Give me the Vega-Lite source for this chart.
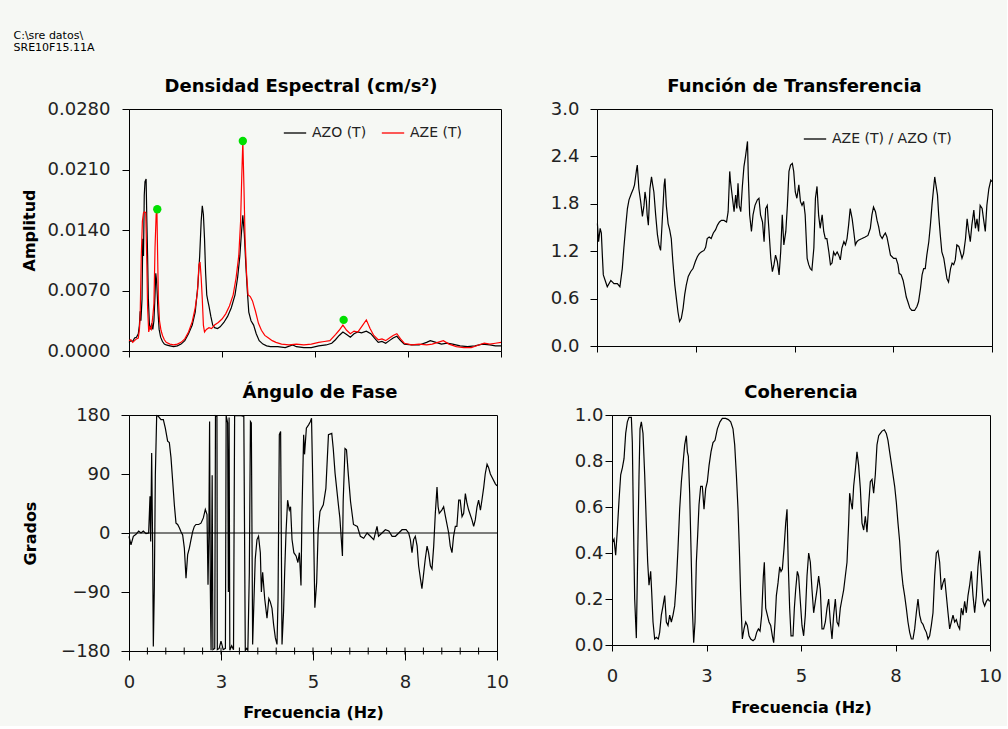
{
"$schema": "https://vega.github.io/schema/vega-lite/v6.json",
"background": "#f6f8f4",
"padding": {"left": 13, "top": 29, "right": 5, "bottom": 5},
"title": {"text": ["C:\\sre datos\\", "SRE10F15.11A"], "anchor": "start", "dx": -7, "fontSize": 11, "fontWeight": "normal", "font": "DejaVu Sans", "lineHeight": 12, "offset": 25, "color": "#000000"},
"datasets": {
"azo": [{"f":0,"v":0.001},{"f":0.05,"v":0.0012},{"f":0.1,"v":0.0011},{"f":0.15,"v":0.0015},{"f":0.2,"v":0.0016},{"f":0.25,"v":0.002},{"f":0.28,"v":0.003},{"f":0.3,"v":0.0046},{"f":0.32,"v":0.0035},{"f":0.35,"v":0.006},{"f":0.37,"v":0.013},{"f":0.39,"v":0.011},{"f":0.41,"v":0.018},{"f":0.43,"v":0.0196},{"f":0.46,"v":0.0199},{"f":0.48,"v":0.015},{"f":0.5,"v":0.011},{"f":0.52,"v":0.006},{"f":0.55,"v":0.003},{"f":0.58,"v":0.0025},{"f":0.61,"v":0.0032},{"f":0.64,"v":0.0025},{"f":0.67,"v":0.0035},{"f":0.7,"v":0.0065},{"f":0.72,"v":0.009},{"f":0.74,"v":0.0082},{"f":0.76,"v":0.0065},{"f":0.78,"v":0.0045},{"f":0.81,"v":0.0025},{"f":0.85,"v":0.0016},{"f":0.9,"v":0.0011},{"f":0.95,"v":0.0008},{"f":1.0,"v":0.0007},{"f":1.1,"v":0.0006},{"f":1.2,"v":0.0005},{"f":1.3,"v":0.0006},{"f":1.4,"v":0.0008},{"f":1.5,"v":0.0012},{"f":1.6,"v":0.002},{"f":1.7,"v":0.003},{"f":1.78,"v":0.0045},{"f":1.85,"v":0.0075},{"f":1.9,"v":0.011},{"f":1.94,"v":0.015},{"f":1.97,"v":0.0168},{"f":2.0,"v":0.0158},{"f":2.03,"v":0.013},{"f":2.06,"v":0.009},{"f":2.09,"v":0.0065},{"f":2.12,"v":0.0058},{"f":2.15,"v":0.0052},{"f":2.2,"v":0.004},{"f":2.25,"v":0.003},{"f":2.3,"v":0.0027},{"f":2.38,"v":0.0026},{"f":2.45,"v":0.0028},{"f":2.55,"v":0.0033},{"f":2.65,"v":0.004},{"f":2.75,"v":0.005},{"f":2.85,"v":0.0065},{"f":2.92,"v":0.0085},{"f":2.98,"v":0.011},{"f":3.02,"v":0.0135},{"f":3.06,"v":0.0157},{"f":3.1,"v":0.0135},{"f":3.14,"v":0.01},{"f":3.18,"v":0.007},{"f":3.22,"v":0.0045},{"f":3.28,"v":0.0035},{"f":3.35,"v":0.003},{"f":3.42,"v":0.002},{"f":3.5,"v":0.0012},{"f":3.6,"v":0.0008},{"f":3.7,"v":0.0006},{"f":3.8,"v":0.0005},{"f":4.0,"v":0.0005},{"f":4.2,"v":0.0004},{"f":4.4,"v":0.0007},{"f":4.5,"v":0.0005},{"f":4.7,"v":0.0004},{"f":4.9,"v":0.0004},{"f":5.1,"v":0.0006},{"f":5.3,"v":0.0007},{"f":5.45,"v":0.0009},{"f":5.55,"v":0.0013},{"f":5.65,"v":0.0018},{"f":5.75,"v":0.0022},{"f":5.85,"v":0.0019},{"f":5.95,"v":0.0016},{"f":6.05,"v":0.002},{"f":6.15,"v":0.0022},{"f":6.25,"v":0.0021},{"f":6.38,"v":0.0023},{"f":6.5,"v":0.002},{"f":6.6,"v":0.0015},{"f":6.7,"v":0.001},{"f":6.8,"v":0.0011},{"f":6.9,"v":0.0009},{"f":7.0,"v":0.0012},{"f":7.1,"v":0.0015},{"f":7.2,"v":0.0017},{"f":7.3,"v":0.0012},{"f":7.4,"v":0.0008},{"f":7.6,"v":0.0007},{"f":7.8,"v":0.0007},{"f":8.0,"v":0.001},{"f":8.1,"v":0.0012},{"f":8.25,"v":0.001},{"f":8.4,"v":0.0008},{"f":8.55,"v":0.0009},{"f":8.7,"v":0.0008},{"f":8.9,"v":0.0006},{"f":9.1,"v":0.0005},{"f":9.3,"v":0.0006},{"f":9.5,"v":0.0008},{"f":9.7,"v":0.0007},{"f":9.85,"v":0.0006},{"f":10,"v":0.0006}],
"aze": [{"f":0,"v":0.0012},{"f":0.05,"v":0.0013},{"f":0.1,"v":0.001},{"f":0.15,"v":0.0012},{"f":0.2,"v":0.0014},{"f":0.25,"v":0.0015},{"f":0.28,"v":0.0025},{"f":0.3,"v":0.004},{"f":0.33,"v":0.011},{"f":0.36,"v":0.015},{"f":0.39,"v":0.016},{"f":0.42,"v":0.0161},{"f":0.45,"v":0.016},{"f":0.48,"v":0.01},{"f":0.5,"v":0.005},{"f":0.53,"v":0.0022},{"f":0.56,"v":0.0028},{"f":0.6,"v":0.0025},{"f":0.64,"v":0.004},{"f":0.67,"v":0.0055},{"f":0.7,"v":0.012},{"f":0.73,"v":0.0158},{"f":0.75,"v":0.0164},{"f":0.77,"v":0.011},{"f":0.79,"v":0.006},{"f":0.82,"v":0.0035},{"f":0.86,"v":0.0024},{"f":0.9,"v":0.0018},{"f":0.95,"v":0.0013},{"f":1.0,"v":0.001},{"f":1.1,"v":0.0008},{"f":1.2,"v":0.0007},{"f":1.3,"v":0.0008},{"f":1.4,"v":0.001},{"f":1.5,"v":0.0014},{"f":1.6,"v":0.0022},{"f":1.7,"v":0.0034},{"f":1.78,"v":0.005},{"f":1.84,"v":0.0068},{"f":1.88,"v":0.01},{"f":1.91,"v":0.0103},{"f":1.94,"v":0.0085},{"f":1.97,"v":0.006},{"f":2.0,"v":0.003},{"f":2.03,"v":0.0022},{"f":2.08,"v":0.0025},{"f":2.15,"v":0.0027},{"f":2.22,"v":0.0026},{"f":2.3,"v":0.003},{"f":2.4,"v":0.0033},{"f":2.5,"v":0.0037},{"f":2.6,"v":0.0043},{"f":2.7,"v":0.0052},{"f":2.8,"v":0.0065},{"f":2.88,"v":0.0085},{"f":2.95,"v":0.011},{"f":3.0,"v":0.015},{"f":3.03,"v":0.02},{"f":3.06,"v":0.0243},{"f":3.09,"v":0.019},{"f":3.12,"v":0.013},{"f":3.16,"v":0.009},{"f":3.2,"v":0.0065},{"f":3.26,"v":0.0063},{"f":3.32,"v":0.0058},{"f":3.4,"v":0.0046},{"f":3.48,"v":0.0032},{"f":3.56,"v":0.0024},{"f":3.65,"v":0.0018},{"f":3.75,"v":0.0015},{"f":3.85,"v":0.0012},{"f":3.95,"v":0.001},{"f":4.1,"v":0.0008},{"f":4.3,"v":0.0007},{"f":4.5,"v":0.0008},{"f":4.7,"v":0.0007},{"f":4.9,"v":0.0008},{"f":5.1,"v":0.001},{"f":5.25,"v":0.0011},{"f":5.4,"v":0.0012},{"f":5.55,"v":0.0019},{"f":5.65,"v":0.0024},{"f":5.75,"v":0.003},{"f":5.85,"v":0.0024},{"f":5.95,"v":0.002},{"f":6.05,"v":0.0023},{"f":6.15,"v":0.0022},{"f":6.25,"v":0.0028},{"f":6.38,"v":0.0036},{"f":6.48,"v":0.0026},{"f":6.58,"v":0.0018},{"f":6.7,"v":0.0013},{"f":6.8,"v":0.0014},{"f":6.9,"v":0.0012},{"f":7.0,"v":0.0015},{"f":7.1,"v":0.0018},{"f":7.2,"v":0.002},{"f":7.3,"v":0.0014},{"f":7.4,"v":0.0009},{"f":7.6,"v":0.0007},{"f":7.8,"v":0.0008},{"f":8.0,"v":0.0007},{"f":8.15,"v":0.0008},{"f":8.3,"v":0.001},{"f":8.45,"v":0.0012},{"f":8.6,"v":0.0008},{"f":8.8,"v":0.0005},{"f":9.0,"v":0.0004},{"f":9.2,"v":0.0004},{"f":9.4,"v":0.0007},{"f":9.55,"v":0.0009},{"f":9.7,"v":0.0008},{"f":9.85,"v":0.0009},{"f":10,"v":0.001}],
"peaks": [{"f":0.76,"v":0.0164},{"f":3.06,"v":0.0243},{"f":5.77,"v":0.0036}],
"minor": [{"f":0.5},{"f":1},{"f":1.5},{"f":2},{"f":2.5},{"f":3},{"f":3.5},{"f":4},{"f":4.5},{"f":5},{"f":5.5},{"f":6},{"f":6.5},{"f":7},{"f":7.5},{"f":8},{"f":8.5},{"f":9},{"f":9.5}],
"tf": [{"f":0.01,"v":1.55},{"f":0.04,"v":1.32},{"f":0.08,"v":1.49},{"f":0.11,"v":1.43},{"f":0.135,"v":1.15},{"f":0.16,"v":0.9},{"f":0.22,"v":0.81},{"f":0.26,"v":0.75},{"f":0.35,"v":0.83},{"f":0.43,"v":0.79},{"f":0.515,"v":0.79},{"f":0.58,"v":0.75},{"f":0.64,"v":0.98},{"f":0.68,"v":1.24},{"f":0.73,"v":1.53},{"f":0.77,"v":1.74},{"f":0.81,"v":1.85},{"f":0.87,"v":1.93},{"f":0.92,"v":1.99},{"f":0.95,"v":2.04},{"f":1.0,"v":2.23},{"f":1.02,"v":2.29},{"f":1.06,"v":1.99},{"f":1.105,"v":1.83},{"f":1.15,"v":1.64},{"f":1.19,"v":1.78},{"f":1.215,"v":1.95},{"f":1.25,"v":1.83},{"f":1.27,"v":1.66},{"f":1.3,"v":1.53},{"f":1.34,"v":1.99},{"f":1.38,"v":2.14},{"f":1.41,"v":2.04},{"f":1.44,"v":1.95},{"f":1.485,"v":1.66},{"f":1.53,"v":1.41},{"f":1.57,"v":1.28},{"f":1.61,"v":1.21},{"f":1.65,"v":1.57},{"f":1.7,"v":2.04},{"f":1.72,"v":2.12},{"f":1.755,"v":1.78},{"f":1.8,"v":1.55},{"f":1.84,"v":1.47},{"f":1.88,"v":1.36},{"f":1.92,"v":1.07},{"f":1.97,"v":0.77},{"f":2.01,"v":0.6},{"f":2.05,"v":0.43},{"f":2.09,"v":0.31},{"f":2.135,"v":0.35},{"f":2.18,"v":0.48},{"f":2.22,"v":0.65},{"f":2.26,"v":0.77},{"f":2.31,"v":0.88},{"f":2.37,"v":0.94},{"f":2.43,"v":0.98},{"f":2.49,"v":1.07},{"f":2.54,"v":1.13},{"f":2.59,"v":1.17},{"f":2.64,"v":1.19},{"f":2.71,"v":1.21},{"f":2.75,"v":1.25},{"f":2.79,"v":1.36},{"f":2.84,"v":1.38},{"f":2.89,"v":1.36},{"f":2.945,"v":1.43},{"f":3.0,"v":1.47},{"f":3.05,"v":1.53},{"f":3.1,"v":1.57},{"f":3.15,"v":1.59},{"f":3.215,"v":1.59},{"f":3.28,"v":1.57},{"f":3.32,"v":1.7},{"f":3.36,"v":2.21},{"f":3.38,"v":2.08},{"f":3.43,"v":1.87},{"f":3.47,"v":1.7},{"f":3.51,"v":1.91},{"f":3.54,"v":1.74},{"f":3.57,"v":2.06},{"f":3.6,"v":1.78},{"f":3.64,"v":1.7},{"f":3.68,"v":2.02},{"f":3.72,"v":2.27},{"f":3.76,"v":2.4},{"f":3.81,"v":2.59},{"f":3.83,"v":2.16},{"f":3.865,"v":1.66},{"f":3.91,"v":1.45},{"f":3.95,"v":1.66},{"f":4.0,"v":1.78},{"f":4.06,"v":1.85},{"f":4.1,"v":1.87},{"f":4.14,"v":1.66},{"f":4.19,"v":1.57},{"f":4.23,"v":1.32},{"f":4.27,"v":1.74},{"f":4.31,"v":1.78},{"f":4.35,"v":1.49},{"f":4.4,"v":1.11},{"f":4.44,"v":0.94},{"f":4.48,"v":1.03},{"f":4.52,"v":1.15},{"f":4.565,"v":1.07},{"f":4.61,"v":0.9},{"f":4.65,"v":1.19},{"f":4.69,"v":1.66},{"f":4.73,"v":1.28},{"f":4.78,"v":1.45},{"f":4.82,"v":1.78},{"f":4.86,"v":2.21},{"f":4.9,"v":2.29},{"f":4.945,"v":2.31},{"f":4.98,"v":2.21},{"f":5.02,"v":1.95},{"f":5.06,"v":1.87},{"f":5.11,"v":2.04},{"f":5.15,"v":1.83},{"f":5.19,"v":1.78},{"f":5.23,"v":1.83},{"f":5.27,"v":1.66},{"f":5.32,"v":1.11},{"f":5.36,"v":1.03},{"f":5.4,"v":0.98},{"f":5.44,"v":0.96},{"f":5.49,"v":1.24},{"f":5.53,"v":1.87},{"f":5.57,"v":2.02},{"f":5.61,"v":1.66},{"f":5.65,"v":1.49},{"f":5.7,"v":1.66},{"f":5.74,"v":1.45},{"f":5.78,"v":1.36},{"f":5.82,"v":1.36},{"f":5.87,"v":1.19},{"f":5.91,"v":1.03},{"f":5.95,"v":1.05},{"f":5.99,"v":1.19},{"f":6.03,"v":1.15},{"f":6.08,"v":1.19},{"f":6.12,"v":1.15},{"f":6.16,"v":1.09},{"f":6.2,"v":1.24},{"f":6.25,"v":1.32},{"f":6.29,"v":1.28},{"f":6.33,"v":1.36},{"f":6.37,"v":1.53},{"f":6.41,"v":1.74},{"f":6.46,"v":1.61},{"f":6.5,"v":1.45},{"f":6.54,"v":1.28},{"f":6.58,"v":1.32},{"f":6.62,"v":1.34},{"f":6.71,"v":1.36},{"f":6.79,"v":1.38},{"f":6.86,"v":1.4},{"f":6.92,"v":1.49},{"f":6.96,"v":1.66},{"f":7.0,"v":1.76},{"f":7.05,"v":1.7},{"f":7.09,"v":1.59},{"f":7.13,"v":1.51},{"f":7.17,"v":1.4},{"f":7.22,"v":1.36},{"f":7.26,"v":1.4},{"f":7.3,"v":1.43},{"f":7.34,"v":1.38},{"f":7.38,"v":1.28},{"f":7.43,"v":1.15},{"f":7.47,"v":1.13},{"f":7.51,"v":1.11},{"f":7.57,"v":1.11},{"f":7.62,"v":1.03},{"f":7.65,"v":0.92},{"f":7.7,"v":0.9},{"f":7.75,"v":0.83},{"f":7.79,"v":0.73},{"f":7.83,"v":0.62},{"f":7.87,"v":0.56},{"f":7.92,"v":0.48},{"f":7.97,"v":0.45},{"f":8.04,"v":0.45},{"f":8.1,"v":0.5},{"f":8.14,"v":0.56},{"f":8.19,"v":0.73},{"f":8.23,"v":0.9},{"f":8.27,"v":0.98},{"f":8.31,"v":0.98},{"f":8.35,"v":1.15},{"f":8.4,"v":1.32},{"f":8.44,"v":1.53},{"f":8.48,"v":1.78},{"f":8.52,"v":1.99},{"f":8.55,"v":2.14},{"f":8.58,"v":2.04},{"f":8.62,"v":1.91},{"f":8.65,"v":1.66},{"f":8.69,"v":1.41},{"f":8.73,"v":1.19},{"f":8.78,"v":1.11},{"f":8.82,"v":0.98},{"f":8.86,"v":0.85},{"f":8.9,"v":0.81},{"f":8.95,"v":0.98},{"f":8.99,"v":1.05},{"f":9.03,"v":1.03},{"f":9.07,"v":1.09},{"f":9.11,"v":1.28},{"f":9.16,"v":1.26},{"f":9.2,"v":1.19},{"f":9.24,"v":1.11},{"f":9.28,"v":1.17},{"f":9.33,"v":1.36},{"f":9.37,"v":1.61},{"f":9.41,"v":1.45},{"f":9.45,"v":1.32},{"f":9.49,"v":1.53},{"f":9.54,"v":1.72},{"f":9.58,"v":1.49},{"f":9.62,"v":1.61},{"f":9.66,"v":1.45},{"f":9.7,"v":1.78},{"f":9.75,"v":1.74},{"f":9.79,"v":1.59},{"f":9.83,"v":1.45},{"f":9.87,"v":1.78},{"f":9.92,"v":1.99},{"f":9.97,"v":2.1},{"f":10,"v":2.08}],
"phase": [{"f":0,"v":-5},{"f":0.054,"v":-18},{"f":0.118,"v":-5},{"f":0.19,"v":-2},{"f":0.263,"v":3},{"f":0.326,"v":0},{"f":0.389,"v":3},{"f":0.462,"v":-1},{"f":0.534,"v":0},{"f":0.571,"v":56},{"f":0.589,"v":-13},{"f":0.616,"v":122},{"f":0.643,"v":-25},{"f":0.661,"v":-173},{"f":0.688,"v":-84},{"f":0.716,"v":89},{"f":0.752,"v":179},{"f":0.797,"v":178},{"f":0.869,"v":173},{"f":0.933,"v":173},{"f":0.987,"v":160},{"f":1.05,"v":140},{"f":1.096,"v":138},{"f":1.141,"v":115},{"f":1.187,"v":79},{"f":1.232,"v":43},{"f":1.277,"v":15},{"f":1.322,"v":13},{"f":1.368,"v":8},{"f":1.413,"v":2},{"f":1.458,"v":-3},{"f":1.504,"v":-23},{"f":1.549,"v":-69},{"f":1.594,"v":-33},{"f":1.64,"v":-23},{"f":1.685,"v":-10},{"f":1.73,"v":2},{"f":1.775,"v":10},{"f":1.82,"v":13},{"f":1.893,"v":13},{"f":1.956,"v":15},{"f":2.02,"v":23},{"f":2.074,"v":36},{"f":2.12,"v":28},{"f":2.147,"v":-79},{"f":2.17,"v":-3},{"f":2.19,"v":170},{"f":2.21,"v":-85},{"f":2.23,"v":-179},{"f":2.26,"v":88},{"f":2.28,"v":-178},{"f":2.33,"v":-176},{"f":2.35,"v":179},{"f":2.39,"v":178},{"f":2.4,"v":-178},{"f":2.45,"v":-176},{"f":2.5,"v":-165},{"f":2.56,"v":-178},{"f":2.62,"v":-176},{"f":2.64,"v":179},{"f":2.68,"v":168},{"f":2.7,"v":-90},{"f":2.72,"v":176},{"f":2.74,"v":-179},{"f":2.79,"v":-172},{"f":2.84,"v":-178},{"f":2.87,"v":179},{"f":2.95,"v":179},{"f":3.05,"v":179},{"f":3.12,"v":178},{"f":3.16,"v":-179},{"f":3.2,"v":-176},{"f":3.23,"v":-179},{"f":3.27,"v":-60},{"f":3.3,"v":170},{"f":3.324,"v":168},{"f":3.36,"v":-170},{"f":3.397,"v":-100},{"f":3.43,"v":-40},{"f":3.478,"v":-10},{"f":3.52,"v":-5},{"f":3.569,"v":-30},{"f":3.597,"v":-90},{"f":3.632,"v":-60},{"f":3.687,"v":-100},{"f":3.75,"v":-130},{"f":3.8,"v":-100},{"f":3.84,"v":-105},{"f":3.886,"v":-115},{"f":3.93,"v":-140},{"f":3.977,"v":-160},{"f":4.022,"v":-170},{"f":4.05,"v":-100},{"f":4.085,"v":150},{"f":4.12,"v":155},{"f":4.158,"v":-170},{"f":4.2,"v":-120},{"f":4.23,"v":-60},{"f":4.266,"v":0},{"f":4.31,"v":50},{"f":4.357,"v":35},{"f":4.39,"v":40},{"f":4.43,"v":-10},{"f":4.48,"v":-30},{"f":4.54,"v":-35},{"f":4.59,"v":-45},{"f":4.63,"v":-30},{"f":4.674,"v":-80},{"f":4.7,"v":30},{"f":4.746,"v":150},{"f":4.77,"v":120},{"f":4.82,"v":160},{"f":4.88,"v":165},{"f":4.93,"v":170},{"f":4.96,"v":175},{"f":5.01,"v":28},{"f":5.05,"v":-114},{"f":5.1,"v":-75},{"f":5.14,"v":3},{"f":5.19,"v":33},{"f":5.28,"v":43},{"f":5.35,"v":68},{"f":5.42,"v":150},{"f":5.51,"v":152},{"f":5.55,"v":129},{"f":5.6,"v":91},{"f":5.69,"v":43},{"f":5.73,"v":23},{"f":5.8,"v":-35},{"f":5.82,"v":48},{"f":5.87,"v":129},{"f":5.91,"v":127},{"f":5.96,"v":89},{"f":6.02,"v":48},{"f":6.1,"v":13},{"f":6.205,"v":10},{"f":6.286,"v":-5},{"f":6.377,"v":-8},{"f":6.47,"v":0},{"f":6.56,"v":-5},{"f":6.65,"v":-10},{"f":6.74,"v":10},{"f":6.78,"v":-5},{"f":6.875,"v":0},{"f":6.966,"v":5},{"f":7.06,"v":3},{"f":7.15,"v":-5},{"f":7.24,"v":-5},{"f":7.33,"v":0},{"f":7.42,"v":5},{"f":7.53,"v":5},{"f":7.6,"v":0},{"f":7.645,"v":-10},{"f":7.69,"v":-30},{"f":7.735,"v":-10},{"f":7.78,"v":-5},{"f":7.83,"v":-20},{"f":7.87,"v":-50},{"f":7.92,"v":-70},{"f":7.96,"v":-85},{"f":8.01,"v":-60},{"f":8.05,"v":-40},{"f":8.1,"v":-20},{"f":8.14,"v":-30},{"f":8.19,"v":-50},{"f":8.234,"v":-55},{"f":8.28,"v":-20},{"f":8.324,"v":30},{"f":8.37,"v":70},{"f":8.4,"v":40},{"f":8.43,"v":30},{"f":8.5,"v":35},{"f":8.55,"v":40},{"f":8.6,"v":25},{"f":8.687,"v":0},{"f":8.73,"v":-20},{"f":8.777,"v":-30},{"f":8.82,"v":-5},{"f":8.868,"v":10},{"f":8.91,"v":10},{"f":8.96,"v":50},{"f":9.0,"v":50},{"f":9.05,"v":25},{"f":9.094,"v":30},{"f":9.14,"v":60},{"f":9.185,"v":45},{"f":9.23,"v":35},{"f":9.32,"v":20},{"f":9.366,"v":10},{"f":9.41,"v":20},{"f":9.457,"v":40},{"f":9.5,"v":50},{"f":9.55,"v":35},{"f":9.59,"v":50},{"f":9.64,"v":70},{"f":9.68,"v":90},{"f":9.73,"v":105},{"f":9.77,"v":100},{"f":9.82,"v":90},{"f":9.864,"v":85},{"f":9.955,"v":75},{"f":10,"v":72}],
"coh": [{"f":0.01,"v":0.446},{"f":0.053,"v":0.46},{"f":0.097,"v":0.39},{"f":0.141,"v":0.5},{"f":0.186,"v":0.63},{"f":0.23,"v":0.74},{"f":0.274,"v":0.77},{"f":0.318,"v":0.81},{"f":0.362,"v":0.92},{"f":0.406,"v":0.97},{"f":0.45,"v":0.99},{"f":0.512,"v":0.99},{"f":0.538,"v":0.88},{"f":0.565,"v":0.56},{"f":0.6,"v":0.2},{"f":0.644,"v":0.03},{"f":0.671,"v":0.3},{"f":0.715,"v":0.74},{"f":0.741,"v":0.94},{"f":0.776,"v":0.97},{"f":0.82,"v":0.92},{"f":0.865,"v":0.74},{"f":0.909,"v":0.52},{"f":0.944,"v":0.36},{"f":0.979,"v":0.26},{"f":1.023,"v":0.32},{"f":1.05,"v":0.23},{"f":1.085,"v":0.1},{"f":1.129,"v":0.026},{"f":1.173,"v":0.033},{"f":1.226,"v":0.026},{"f":1.261,"v":0.055},{"f":1.305,"v":0.13},{"f":1.35,"v":0.17},{"f":1.394,"v":0.215},{"f":1.438,"v":0.1},{"f":1.482,"v":0.085},{"f":1.526,"v":0.13},{"f":1.57,"v":0.1},{"f":1.614,"v":0.13},{"f":1.658,"v":0.17},{"f":1.702,"v":0.27},{"f":1.746,"v":0.42},{"f":1.79,"v":0.59},{"f":1.835,"v":0.71},{"f":1.879,"v":0.79},{"f":1.923,"v":0.87},{"f":1.967,"v":0.91},{"f":1.993,"v":0.84},{"f":2.02,"v":0.82},{"f":2.055,"v":0.66},{"f":2.09,"v":0.42},{"f":2.126,"v":0.16},{"f":2.161,"v":0.01},{"f":2.196,"v":0.1},{"f":2.231,"v":0.36},{"f":2.267,"v":0.48},{"f":2.302,"v":0.61},{"f":2.346,"v":0.69},{"f":2.39,"v":0.69},{"f":2.434,"v":0.59},{"f":2.478,"v":0.68},{"f":2.522,"v":0.71},{"f":2.567,"v":0.78},{"f":2.619,"v":0.84},{"f":2.672,"v":0.88},{"f":2.725,"v":0.89},{"f":2.787,"v":0.94},{"f":2.857,"v":0.97},{"f":2.919,"v":0.985},{"f":3.007,"v":0.985},{"f":3.078,"v":0.98},{"f":3.14,"v":0.97},{"f":3.201,"v":0.94},{"f":3.246,"v":0.87},{"f":3.29,"v":0.74},{"f":3.334,"v":0.59},{"f":3.369,"v":0.42},{"f":3.404,"v":0.215},{"f":3.448,"v":0.026},{"f":3.492,"v":0.07},{"f":3.537,"v":0.1},{"f":3.581,"v":0.085},{"f":3.625,"v":0.04},{"f":3.669,"v":0.026},{"f":3.731,"v":0.019},{"f":3.783,"v":0.026},{"f":3.828,"v":0.055},{"f":3.872,"v":0.07},{"f":3.916,"v":0.06},{"f":3.96,"v":0.13},{"f":4.004,"v":0.3},{"f":4.03,"v":0.36},{"f":4.066,"v":0.16},{"f":4.11,"v":0.13},{"f":4.154,"v":0.1},{"f":4.198,"v":0.085},{"f":4.242,"v":0.04},{"f":4.277,"v":0.01},{"f":4.313,"v":0.1},{"f":4.348,"v":0.215},{"f":4.392,"v":0.27},{"f":4.436,"v":0.34},{"f":4.471,"v":0.32},{"f":4.507,"v":0.33},{"f":4.551,"v":0.42},{"f":4.595,"v":0.53},{"f":4.63,"v":0.59},{"f":4.665,"v":0.34},{"f":4.7,"v":0.16},{"f":4.736,"v":0.04},{"f":4.789,"v":0.04},{"f":4.824,"v":0.16},{"f":4.859,"v":0.24},{"f":4.903,"v":0.32},{"f":4.938,"v":0.3},{"f":4.982,"v":0.19},{"f":5.026,"v":0.085},{"f":5.07,"v":0.04},{"f":5.114,"v":0.13},{"f":5.159,"v":0.3},{"f":5.203,"v":0.4},{"f":5.247,"v":0.36},{"f":5.291,"v":0.24},{"f":5.335,"v":0.14},{"f":5.379,"v":0.19},{"f":5.423,"v":0.24},{"f":5.467,"v":0.3},{"f":5.511,"v":0.24},{"f":5.555,"v":0.07},{"f":5.599,"v":0.07},{"f":5.644,"v":0.1},{"f":5.688,"v":0.16},{"f":5.732,"v":0.2},{"f":5.776,"v":0.1},{"f":5.82,"v":0.026},{"f":5.864,"v":0.13},{"f":5.908,"v":0.2},{"f":5.952,"v":0.1},{"f":5.996,"v":0.085},{"f":6.04,"v":0.16},{"f":6.084,"v":0.2},{"f":6.129,"v":0.24},{"f":6.173,"v":0.3},{"f":6.217,"v":0.36},{"f":6.261,"v":0.53},{"f":6.287,"v":0.66},{"f":6.323,"v":0.62},{"f":6.358,"v":0.59},{"f":6.393,"v":0.69},{"f":6.437,"v":0.76},{"f":6.481,"v":0.84},{"f":6.525,"v":0.78},{"f":6.57,"v":0.68},{"f":6.614,"v":0.53},{"f":6.658,"v":0.5},{"f":6.702,"v":0.56},{"f":6.746,"v":0.49},{"f":6.79,"v":0.61},{"f":6.834,"v":0.71},{"f":6.878,"v":0.72},{"f":6.922,"v":0.66},{"f":6.966,"v":0.74},{"f":7.01,"v":0.87},{"f":7.055,"v":0.91},{"f":7.099,"v":0.92},{"f":7.143,"v":0.93},{"f":7.204,"v":0.936},{"f":7.257,"v":0.92},{"f":7.301,"v":0.89},{"f":7.345,"v":0.84},{"f":7.39,"v":0.79},{"f":7.434,"v":0.74},{"f":7.478,"v":0.69},{"f":7.522,"v":0.62},{"f":7.566,"v":0.53},{"f":7.61,"v":0.45},{"f":7.654,"v":0.33},{"f":7.698,"v":0.26},{"f":7.742,"v":0.215},{"f":7.786,"v":0.16},{"f":7.83,"v":0.1},{"f":7.875,"v":0.055},{"f":7.919,"v":0.026},{"f":7.963,"v":0.026},{"f":8.007,"v":0.07},{"f":8.051,"v":0.14},{"f":8.095,"v":0.2},{"f":8.139,"v":0.13},{"f":8.183,"v":0.1},{"f":8.227,"v":0.09},{"f":8.272,"v":0.07},{"f":8.316,"v":0.055},{"f":8.36,"v":0.026},{"f":8.404,"v":0.04},{"f":8.448,"v":0.085},{"f":8.492,"v":0.14},{"f":8.536,"v":0.3},{"f":8.58,"v":0.4},{"f":8.624,"v":0.41},{"f":8.668,"v":0.36},{"f":8.712,"v":0.24},{"f":8.757,"v":0.27},{"f":8.801,"v":0.29},{"f":8.845,"v":0.215},{"f":8.889,"v":0.14},{"f":8.933,"v":0.07},{"f":8.977,"v":0.1},{"f":9.021,"v":0.13},{"f":9.065,"v":0.1},{"f":9.109,"v":0.11},{"f":9.153,"v":0.085},{"f":9.197,"v":0.07},{"f":9.241,"v":0.16},{"f":9.285,"v":0.13},{"f":9.33,"v":0.19},{"f":9.374,"v":0.14},{"f":9.418,"v":0.215},{"f":9.462,"v":0.26},{"f":9.506,"v":0.32},{"f":9.55,"v":0.215},{"f":9.594,"v":0.14},{"f":9.638,"v":0.215},{"f":9.682,"v":0.34},{"f":9.726,"v":0.41},{"f":9.771,"v":0.3},{"f":9.815,"v":0.19},{"f":9.859,"v":0.17},{"f":9.903,"v":0.19},{"f":9.947,"v":0.2},{"f":9.991,"v":0.19}]
},
"spacing": 22,
"align": "none",
"resolve": {"scale": {"color": "independent"}, "legend": {"color": "independent"}},
"vconcat": [
{
"spacing": 45,
"resolve": {"scale": {"color": "independent"}, "legend": {"color": "independent"}},
"hconcat": [
{
"width": 372, "height": 242,
"title": {"text": "Densidad Espectral (cm/s²)", "offset": 4, "dx": -14},
"layer": [
{"data": {"name": "azo"}, "mark": {"type": "line", "strokeWidth": 1.2},
 "encoding": {
  "x": {"field": "f", "type": "quantitative", "scale": {"domain": [0, 10], "nice": false}, "axis": {"values": [0, 2.5, 5, 7.5, 10], "labels": false, "title": null, "tickSize": 6}},
  "y": {"field": "v", "type": "quantitative", "scale": {"domain": [0, 0.028], "nice": false}, "axis": {"values": [0, 0.007, 0.014, 0.021, 0.028], "format": ".4f", "title": "Amplitud", "tickSize": 7, "labelPadding": 12, "titlePadding": 10}},
  "color": {"datum": "AZO (T)", "type": "nominal", "scale": {"domain": ["AZO (T)", "AZE (T)"], "range": ["#000000", "#ff0000"]}, "legend": {"orient": "none", "legendX": 154, "legendY": 12, "direction": "horizontal", "title": null}}
 }},
{"data": {"name": "aze"}, "mark": {"type": "line", "strokeWidth": 1.2},
 "encoding": {
  "x": {"field": "f", "type": "quantitative"},
  "y": {"field": "v", "type": "quantitative"},
  "color": {"datum": "AZE (T)", "type": "nominal", "scale": {"domain": ["AZO (T)", "AZE (T)"], "range": ["#000000", "#ff0000"]}, "legend": {"orient": "none", "legendX": 154, "legendY": 12, "direction": "horizontal", "title": null}}
 }},
{"data": {"name": "peaks"}, "mark": {"type": "circle", "size": 70, "color": "#00e000", "opacity": 1},
 "encoding": {
  "x": {"field": "f", "type": "quantitative"},
  "y": {"field": "v", "type": "quantitative"}
 }}
]
},
{
"width": 395, "height": 237,
"title": {"text": "Función de Transferencia", "offset": 4},
"data": {"name": "tf"},
"mark": {"type": "line", "strokeWidth": 1.2},
"encoding": {
  "x": {"field": "f", "type": "quantitative", "scale": {"domain": [0, 10], "nice": false}, "axis": {"values": [0, 2.5, 5, 7.5, 10], "labels": false, "title": null, "tickSize": 6}},
  "y": {"field": "v", "type": "quantitative", "scale": {"domain": [0, 3], "nice": false}, "axis": {"values": [0, 0.6, 1.2, 1.8, 2.4, 3.0], "format": ".1f", "title": null, "tickSize": 7, "labelPadding": 11}},
  "color": {"datum": "AZE (T) / AZO (T)", "type": "nominal", "scale": {"domain": ["AZE (T) / AZO (T)"], "range": ["#000000"]}, "legend": {"orient": "none", "legendX": 206, "legendY": 18, "direction": "horizontal", "title": null}}
}
}
]
},
{
"spacing": 64,
"resolve": {"scale": {"color": "independent"}, "legend": {"color": "independent"}},
"hconcat": [
{
"width": 368, "height": 236,
"title": {"text": "Ángulo de Fase", "offset": 4, "dx": 7},
"layer": [
{"data": {"name": "phase"}, "mark": {"type": "line", "strokeWidth": 1.2, "color": "#000000"},
 "encoding": {
  "x": {"field": "f", "type": "quantitative", "scale": {"domain": [0, 10], "nice": false}, "axis": {"values": [0, 2.5, 5, 7.5, 10], "format": ".0f", "title": "Frecuencia (Hz)", "tickSize": 9, "labelPadding": 13, "titlePadding": 13}},
  "y": {"field": "v", "type": "quantitative", "scale": {"domain": [-180, 180], "nice": false}, "axis": {"values": [-180, -90, 0, 90, 180], "title": "Grados", "tickSize": 8, "labelPadding": 11, "titlePadding": 22}}
 }},
{"data": {"values": [{}]}, "mark": {"type": "rule", "color": "#000000", "strokeWidth": 1.2},
 "encoding": {
  "y": {"datum": 0, "type": "quantitative"}
 }},
{"data": {"name": "minor"}, "mark": {"type": "tick", "orient": "vertical", "color": "#000000", "size": 7, "thickness": 1, "opacity": 1},
 "encoding": {
  "x": {"field": "f", "type": "quantitative"},
  "y": {"datum": -180, "type": "quantitative"}
 }}
]
},
{
"width": 378, "height": 230,
"title": {"text": "Coherencia", "offset": 4},
"data": {"name": "coh"},
"mark": {"type": "line", "strokeWidth": 1.2, "color": "#000000"},
"encoding": {
  "x": {"field": "f", "type": "quantitative", "scale": {"domain": [0, 10], "nice": false}, "axis": {"values": [0, 2.5, 5, 7.5, 10], "format": ".0f", "title": "Frecuencia (Hz)", "tickSize": 6, "labelPadding": 16, "titlePadding": 14}},
  "y": {"field": "v", "type": "quantitative", "scale": {"domain": [0, 1], "nice": false}, "axis": {"values": [0, 0.2, 0.4, 0.6, 0.8, 1.0], "format": ".1f", "title": null, "tickSize": 7, "labelPadding": 2}}
}
}
]
}
],
"config": {
  "view": {"stroke": "#000000", "strokeWidth": 1},
  "axis": {"domainColor": "#000000", "domainWidth": 1, "tickColor": "#000000", "tickWidth": 1, "labelFont": "DejaVu Sans", "labelFontSize": 18, "labelColor": "#222222", "titleFont": "DejaVu Sans", "titleFontSize": 16, "titleFontWeight": "bold", "titleColor": "#000000", "grid": false, "labelOverlap": false, "labelFlush": false},
  "title": {"font": "DejaVu Sans", "fontSize": 18, "fontWeight": "bold", "color": "#000000"},
  "legend": {"labelFont": "DejaVu Sans", "labelFontSize": 14, "labelColor": "#222222", "symbolType": "stroke", "symbolStrokeWidth": 1.3, "symbolSize": 500, "columnPadding": 12, "labelOffset": 5}
}
}
